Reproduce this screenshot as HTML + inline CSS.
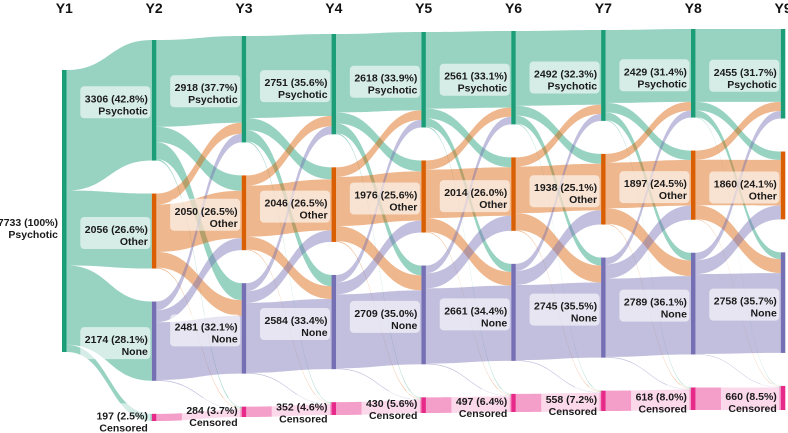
<!DOCTYPE html>
<html><head><meta charset="utf-8">
<style>
html,body{margin:0;padding:0;background:#fff;}
svg{display:block;font-family:"Liberation Sans",sans-serif;}
</style></head>
<body>
<svg id="chart" width="788" height="433" viewBox="0 0 788 433" xmlns="http://www.w3.org/2000/svg"></svg>
<script>
const years = ['Y1','Y2','Y3','Y4','Y5','Y6','Y7','Y8','Y9'];
const categories = ['Psychotic','Other','None','Censored'];
const counts = [
  [7733,0,0,0],
  [3306,2056,2174,197],
  [2918,2050,2481,284],
  [2751,2046,2584,352],
  [2618,1976,2709,430],
  [2561,2014,2661,497],
  [2492,1938,2745,558],
  [2429,1897,2789,618],
  [2455,1860,2758,660]
];
const percents = [
  ['100',null,null,null],
  ['42.8','26.6','28.1','2.5'],
  ['37.7','26.5','32.1','3.7'],
  ['35.6','26.5','33.4','4.6'],
  ['33.9','25.6','35.0','5.6'],
  ['33.1','26.0','34.4','6.4'],
  ['32.3','25.1','35.5','7.2'],
  ['31.4','24.5','36.1','8.0'],
  ['31.7','24.1','35.7','8.5']
];
// flows[t][source][target] between years t and t+1
const flowsY1 = [[3306,2056,2174,197],[0,0,0,0],[0,0,0,0],[0,0,0,0]];
const flowsY2 = [[2380,420,466,40],[300,1300,431,25],[238,330,1584,22],[0,0,0,197]];
const flowsY3 = [[2250,330,310,28],[280,1400,350,20],[221,316,1924,20],[0,0,0,284]];
const flowsY4 = [[2150,300,270,31],[260,1350,410,26],[208,326,2029,21],[0,0,0,352]];
const flowsY5 = [[2100,270,222,26],[250,1330,375,21],[211,414,2064,20],[0,0,0,430]];
const flowsY6 = [[2050,270,220,21],[250,1280,464,20],[192,388,2061,20],[0,0,0,497]];
const flowsY7 = [[2000,260,212,20],[240,1250,428,20],[189,387,2149,20],[0,0,0,558]];
const flowsY8 = [[2000,230,185,14],[250,1250,383,14],[205,380,2190,14],[0,0,0,618]];
const flows = [flowsY1,flowsY2,flowsY3,flowsY4,flowsY5,flowsY6,flowsY7,flowsY8];

const svg = document.getElementById('chart');
const NS = 'http://www.w3.org/2000/svg';
const nodeColors = ['#1b9e77','#d95f02','#7570b3','#e7298a'];
const total = counts[0].reduce((a,b)=>a+b,0);
const k = 282/total;
const gap = 33;
const colTop = [70,40,36,34,32,31,30,29,29];
const NW = 4.5;
function nx(i){ return 62 + i*89.85; }
function mk(tag, attrs){ const e=document.createElementNS(NS,tag); for(const a in attrs) e.setAttribute(a,attrs[a]); return e; }

const nodeY = years.map((y,i)=>{
  let yy = colTop[i]; const arr=[];
  counts[i].forEach((c,j)=>{ if(c>0){ arr[j]=yy; yy += c*k + gap; } else arr[j]=null; });
  return arr;
});

const gLinks = mk('g',{});   svg.appendChild(gLinks);
flows.forEach((F,t)=>{
  const srcOff = counts[t].map(()=>0);
  const tgtOff = counts[t+1].map(()=>0);
  const tgtStart = [];
  for(let s=0;s<4;s++){ tgtStart[s]=[]; }
  for(let d=0;d<4;d++){ for(let s=0;s<4;s++){ tgtStart[s][d]=tgtOff[d]; tgtOff[d]+=F[s][d]*k; } }
  for(let s=0;s<4;s++){
    for(let d=0;d<4;d++){
      const v=F[s][d]; if(!v) continue;
      const w=v*k;
      const y0=nodeY[t][s]+srcOff[s]; srcOff[s]+=w;
      const y1=nodeY[t+1][d]+tgtStart[s][d];
      const sx=nx(t)+NW, tx=nx(t+1), mx=(sx+tx)/2;
      const p=mk('path',{d:`M${sx},${y0}C${mx},${y0} ${mx},${y1} ${tx},${y1}L${tx},${y1+w}C${mx},${y1+w} ${mx},${y0+w} ${sx},${y0+w}Z`,fill:nodeColors[s],'fill-opacity':0.45});
      
      
      gLinks.appendChild(p);
    }
  }
});

years.forEach((y,i)=>{
  counts[i].forEach((c,j)=>{
    if(!c) return;
    const r=mk('rect',{x:nx(i),y:nodeY[i][j],width:NW,height:c*k,fill:nodeColors[j]});
    
    
    svg.appendChild(r);
  });
  const h=mk('text',{x:nx(i)+NW/2,y:13,'text-anchor':'middle','font-size':14,'font-weight':'bold',fill:'#111'});
  h.textContent=y;
  
  
  svg.appendChild(h);
});

years.forEach((y,i)=>{
  counts[i].forEach((c,j)=>{
    if(!c) return;
    const line1=c+' ('+percents[i][j]+'%)';
    const cy=nodeY[i][j]+c*k/2 + (i===0?13:0);
    const g=mk('g',{});
    
    
    const rx=nx(i)-4;
    const t1=mk('text',{x:rx,y:cy+2,'text-anchor':'end','font-size':10.5,'font-weight':'bold',fill:'#1a1a1a'});
    t1.textContent=line1;
    const t2=mk('text',{x:rx,y:cy+14,'text-anchor':'end','font-size':10.5,'font-weight':'bold',fill:'#1a1a1a'});
    t2.textContent=categories[j];
    g.appendChild(t1); g.appendChild(t2);
    svg.appendChild(g);
    const bw=Math.max(t1.getComputedTextLength(),t2.getComputedTextLength())+7;
    const box=mk('rect',{x:rx-bw+2.5,y:cy-14,width:bw,height:32,rx:4,fill:'#fff','fill-opacity':0.6});
    
    
    g.insertBefore(box,t1);
  });
});
</script>
</body></html>
